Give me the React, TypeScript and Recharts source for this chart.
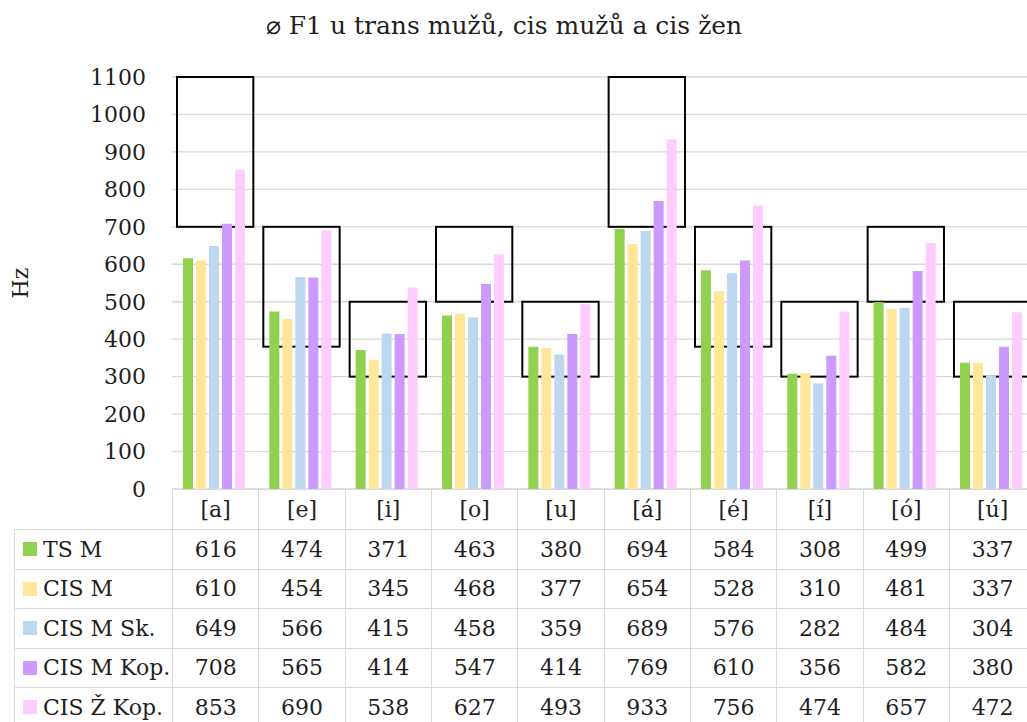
import { BarChart, Bar, XAxis, YAxis, CartesianGrid, ReferenceArea } from "recharts"

const categories = ["[a]", "[e]", "[i]", "[o]", "[u]", "[á]", "[é]", "[í]", "[ó]", "[ú]"]

const tsM = [616, 474, 371, 463, 380, 694, 584, 308, 499, 337]
const cisM = [610, 454, 345, 468, 377, 654, 528, 310, 481, 337]
const cisMSk = [649, 566, 415, 458, 359, 689, 576, 282, 484, 304]
const cisMKop = [708, 565, 414, 547, 414, 769, 610, 356, 582, 380]
const cisZKop = [853, 690, 538, 627, 493, 933, 756, 474, 657, 472]

// highlighted ranges (black boxes) per vowel
const boxLow = [700, 380, 300, 500, 300, 700, 380, 300, 500, 300]
const boxHigh = [1100, 700, 500, 700, 500, 1100, 700, 500, 700, 500]

const yTicks = [0, 100, 200, 300, 400, 500, 600, 700, 800, 900, 1000, 1100]

const series = [
  { name: "TS M", values: tsM, color: "#92d050" },
  { name: "CIS M", values: cisM, color: "#ffe699" },
  { name: "CIS M Sk.", values: cisMSk, color: "#bdd7ee" },
  { name: "CIS M Kop.", values: cisMKop, color: "#cc99ff" },
  { name: "CIS Ž Kop.", values: cisZKop, color: "#ffccff" },
]

const FONT = '"DejaVu Serif", serif'
const TEXT = "#1f1f1f"
const GRID = "#d9d9d9"

// layout
const PLOT_LEFT = 172
const PLOT_TOP = 77
const PLOT_BOTTOM = 489
const COL_W = 86.33
const LABEL_LEFT = 14
const HEADER_H = 40
const ROW_H = 39.5

const data = categories.map((cat, i) => {
  const row: Record<string, string | number> = { cat }
  series.forEach((s) => {
    row[s.name] = s.values[i]
  })
  return row
})

const BoxShape = (props: any) => (
  <rect
    x={props.x + 5}
    y={props.y}
    width={props.width - 10}
    height={props.height}
    fill="none"
    stroke="#000"
    strokeWidth={2}
  />
)

function DataTable() {
  const cellBase: React.CSSProperties = {
    position: "absolute",
    boxSizing: "border-box",
    borderLeft: `1.5px solid ${GRID}`,
    borderTop: `1.5px solid ${GRID}`,
    display: "flex",
    alignItems: "center",
    justifyContent: "center",
    fontFamily: FONT,
    fontSize: 22,
    color: TEXT,
  }
  const cells: React.ReactNode[] = []
  categories.forEach((cat, j) => {
    cells.push(
      <div
        key={`h-${j}`}
        style={{ ...cellBase, left: PLOT_LEFT + j * COL_W, top: PLOT_BOTTOM, width: COL_W, height: HEADER_H }}
      >
        {cat}
      </div>,
    )
  })
  series.forEach((s, r) => {
    const top = PLOT_BOTTOM + HEADER_H + r * ROW_H
    cells.push(
      <div
        key={`l-${r}`}
        style={{
          ...cellBase,
          left: LABEL_LEFT,
          top,
          width: PLOT_LEFT - LABEL_LEFT,
          height: ROW_H,
          justifyContent: "flex-start",
          paddingLeft: 8,
          whiteSpace: "nowrap",
        }}
      >
        <span style={{ width: 14, height: 14, background: s.color, marginRight: 6, flexShrink: 0 }} />
        {s.name}
      </div>,
    )
    s.values.forEach((v, j) => {
      cells.push(
        <div
          key={`c-${r}-${j}`}
          style={{ ...cellBase, left: PLOT_LEFT + j * COL_W, top, width: COL_W, height: ROW_H }}
        >
          {v}
        </div>,
      )
    })
  })
  return <>{cells}</>
}

export default function App() {
  return (
    <div
      style={{
        position: "absolute",
        left: 0,
        top: 0,
        width: 1027,
        height: 722,
        overflow: "hidden",
        background: "#fff",
      }}
    >
      <div style={{ position: "absolute", left: 0, top: 0 }}>
        <BarChart
          width={PLOT_LEFT + COL_W * categories.length + 1}
          height={PLOT_BOTTOM + 20}
          data={data}
          margin={{ top: PLOT_TOP, right: 1, bottom: 20, left: 0 }}
          barCategoryGap={11}
          barGap={3}
        >
          <CartesianGrid vertical={false} stroke={GRID} strokeWidth={1.3} />
          <XAxis dataKey="cat" hide />
          <YAxis
            width={PLOT_LEFT}
            domain={[0, 1100]}
            ticks={yTicks}
            interval={0}
            axisLine={false}
            tickLine={false}
            tickSize={6}
            tickMargin={20}
            tick={{ fontFamily: FONT, fontSize: 22, fill: TEXT }}
          />
          {series.map((s) => (
            <Bar key={s.name} dataKey={s.name} fill={s.color} isAnimationActive={false} />
          ))}
          {categories.map((cat, i) => (
            <ReferenceArea
              key={`box-${cat}`}
              x1={cat}
              x2={cat}
              y1={boxLow[i]}
              y2={boxHigh[i]}
              ifOverflow="visible"
              shape={BoxShape}
            />
          ))}
        </BarChart>
      </div>
      <div
        style={{
          position: "absolute",
          left: 0,
          width: 1008,
          top: 11,
          textAlign: "center",
          fontFamily: FONT,
          fontSize: 25,
          lineHeight: "30px",
          color: TEXT,
        }}
      >
        ⌀ F1 u trans mužů, cis mužů a cis žen
      </div>
      <div
        style={{
          position: "absolute",
          left: 20,
          top: (PLOT_TOP + PLOT_BOTTOM) / 2,
          transform: "translate(-50%, -50%) rotate(-90deg)",
          fontFamily: FONT,
          fontSize: 22,
          color: TEXT,
          whiteSpace: "nowrap",
        }}
      >
        Hz
      </div>
      <div style={{ position: "absolute", left: 0, top: 0, width: 1027, height: 722, background: "transparent" }}>
        <DataTable />
      </div>
    </div>
  )
}
